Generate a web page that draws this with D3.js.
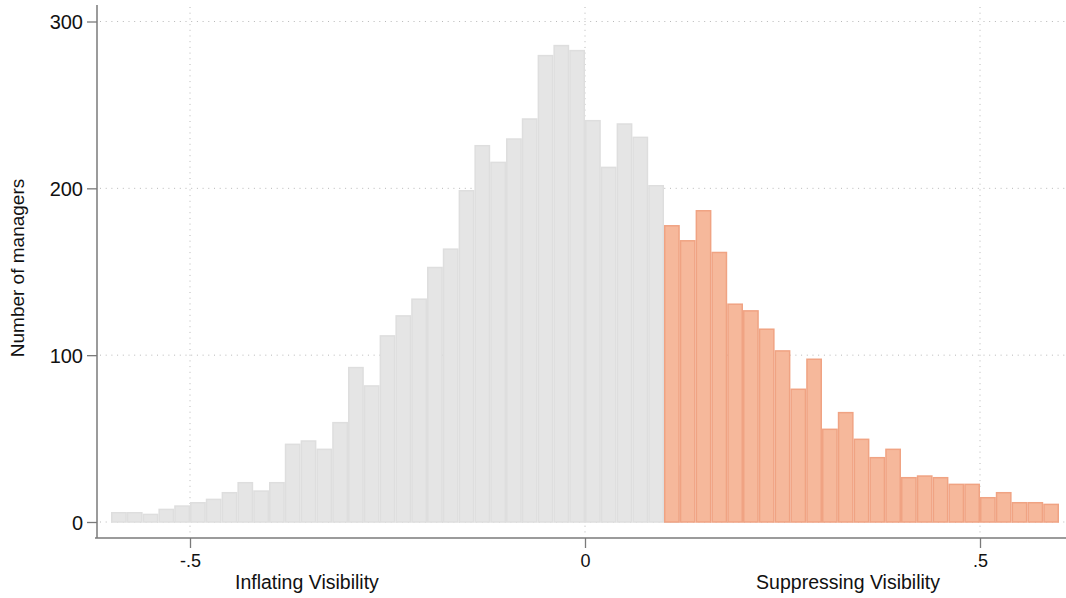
<!DOCTYPE html>
<html>
<head>
<meta charset="utf-8">
<script src="https://cdn.jsdelivr.net/npm/d3@7"></script>
<style>
	body { margin: 0; background: #fff; }
	svg text { font-family: 'Liberation Sans', Arial, Helvetica, sans-serif; fill: #111; }
</style>
</head>
<body>
<div id="chart"></div>
<script>
// histogram bins are 0.02 wide, starting at -0.6
var binWidth = 0.02;
var greyStart = -0.6;
var orangeStart = 0.1;

// bins from -0.60 to 0.12 (last one sits under the orange bars)
var greyCounts = [6, 6, 5, 8, 10, 12, 14, 18, 24, 19,
	24, 47, 49, 44, 60, 93, 82, 112, 124, 134,
	153, 164, 199, 226, 216, 230, 242, 280, 286, 283,
	241, 213, 239, 231, 202, 34];
// bins from 0.10 to 0.60
var orangeCounts = [178, 169, 187, 162, 131, 127, 116, 103, 80, 98,
	56, 66, 50, 39, 44, 27, 28, 27, 23, 23,
	15, 18, 12, 12, 11];

var xTicks = [-0.5, 0, 0.5];
var xTickLabels = ['-.5', '0', '.5'];
var yTicks = [0, 100, 200, 300];
var sideLabels = [
	['Inflating Visibility', -0.352],
	['Suppressing Visibility', 0.333]
];

var width = 1066;
var height = 598;

var svg = d3.select('#chart')
	.append('svg')
	.attr('width', width)
	.attr('height', height);

var x = d3.scaleLinear().domain([-0.5, 0.5]).range([190, 980]);
var y = d3.scaleLinear().domain([0, 300]).range([522, 21.5]);

var plotLeft = 97;
var plotRight = width;
var plotTop = 5;
var plotBottom = 538;

var toBins = function(counts, start) {
	return counts.map(function(c, i) {
		return { x0: start + i * binWidth, x1: start + (i + 1) * binWidth, n: c };
	});
};

// grid
var grid = svg.append('g').attr('class', 'grid');
grid.selectAll('line.h')
	.data(yTicks)
	.enter().append('line')
	.attr('x1', plotLeft + 3)
	.attr('x2', plotRight)
	.attr('y1', function(d) { return y(d); })
	.attr('y2', function(d) { return y(d); })
	.style('stroke', '#b8b8b8')
	.style('stroke-width', 1)
	.style('stroke-dasharray', '1,4.7');
grid.selectAll('line.v')
	.data(xTicks)
	.enter().append('line')
	.attr('x1', function(d) { return x(d); })
	.attr('x2', function(d) { return x(d); })
	.attr('y1', plotTop + 2)
	.attr('y2', plotBottom - 3)
	.style('stroke', '#b8b8b8')
	.style('stroke-width', 1)
	.style('stroke-dasharray', '1,4.7');

// bars
var drawBars = function(bins, fill, stroke) {
	svg.append('g')
		.selectAll('rect')
		.data(bins)
		.enter().append('rect')
		.attr('x', function(d) { return x(d.x0) + 0.75; })
		.attr('width', function(d) { return x(d.x1) - x(d.x0) - 1.5; })
		.attr('y', function(d) { return y(d.n) + 0.75; })
		.attr('height', function(d) { return y(0) - y(d.n) - 0.75; })
		.style('fill', fill)
		.style('stroke', stroke)
		.style('stroke-width', 1.5);
};

drawBars(toBins(greyCounts, greyStart), '#e5e5e5', '#dedede');
drawBars(toBins(orangeCounts, orangeStart), '#f6b89b', '#f0a383');

// axes
var yAxis = d3.axisLeft(y)
	.tickValues(yTicks)
	.tickSize(10)
	.tickPadding(4);
var yg = svg.append('g')
	.attr('transform', 'translate(' + plotLeft + ',0)')
	.call(yAxis);
yg.select('.domain').remove();
yg.append('line')
	.attr('x1', 0).attr('x2', 0)
	.attr('y1', plotTop).attr('y2', plotBottom)
	.style('stroke', '#7a7a7a')
	.style('stroke-width', 1.5);
yg.selectAll('.tick line').style('stroke', '#7a7a7a').style('stroke-width', 1.3);
yg.selectAll('.tick text')
	.style('font-size', '20px')
	.attr('dy', '0.36em')
	.style('font-family', "'Liberation Sans', Arial, sans-serif")
	.style('fill', '#111');

var xAxis = d3.axisBottom(x)
	.tickValues(xTicks)
	.tickFormat(function(d, i) { return xTickLabels[i]; })
	.tickSize(10)
	.tickPadding(6);
var xg = svg.append('g')
	.attr('transform', 'translate(0,' + plotBottom + ')')
	.call(xAxis);
xg.select('.domain').remove();
xg.append('line')
	.attr('x1', plotLeft - 2).attr('x2', plotRight)
	.attr('y1', 0).attr('y2', 0)
	.style('stroke', '#7a7a7a')
	.style('stroke-width', 1.5);
xg.selectAll('.tick line').style('stroke', '#7a7a7a').style('stroke-width', 1.3);
xg.selectAll('.tick text')
	.style('font-size', '18px')
	.style('font-family', "'Liberation Sans', Arial, sans-serif")
	.style('fill', '#111');

// side labels under the axis
svg.selectAll('text.side')
	.data(sideLabels)
	.enter().append('text')
	.attr('class', 'side')
	.attr('x', function(d) { return x(d[1]); })
	.attr('y', 589)
	.attr('text-anchor', 'middle')
	.style('font-size', '19.5px')
	.text(function(d) { return d[0]; });

// y title
svg.append('text')
	.attr('transform', 'translate(24,' + 268 + ') rotate(-90)')
	.attr('text-anchor', 'middle')
	.style('font-size', '19px')
	.text('Number of managers');
</script>
</body>
</html>
